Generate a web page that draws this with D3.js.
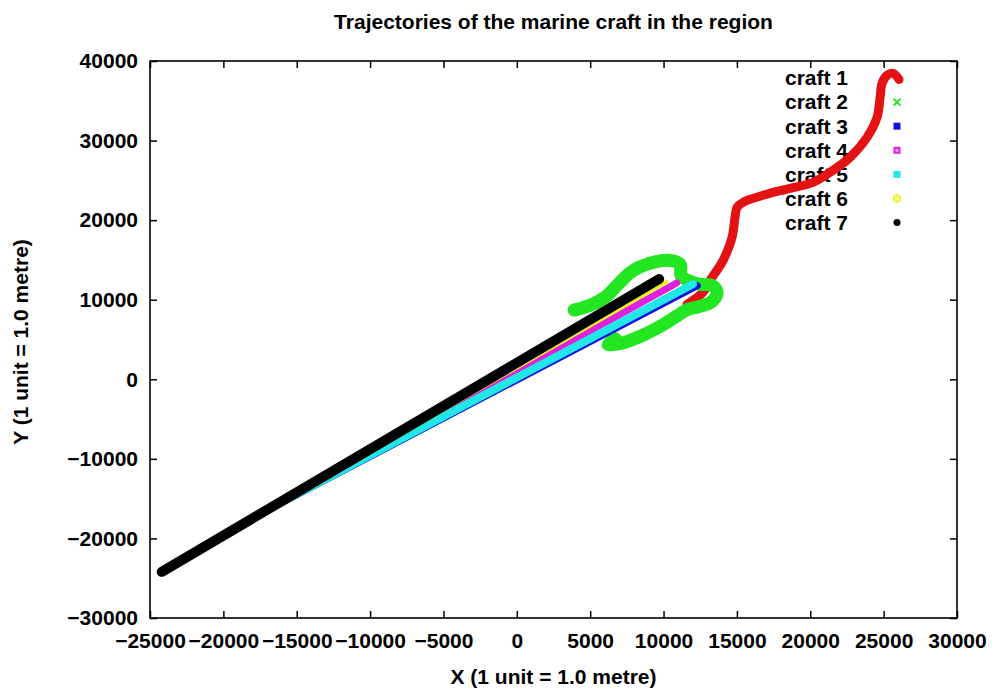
<!DOCTYPE html>
<html><head><meta charset="utf-8">
<script src="https://cdn.jsdelivr.net/npm/d3@7"></script>
<style>
body{margin:0;background:#fff;}
text{font-family:"Liberation Sans",Arial,sans-serif;font-weight:bold;fill:#000;}
</style>
</head><body>
<svg id="chart" width="999" height="695"></svg>
<script>
const titleText = "Trajectories of the marine craft in the region";
const xLabel = "X (1 unit = 1.0 metre)";
const yLabel = "Y (1 unit = 1.0 metre)";
const xTicks = [-25000,-20000,-15000,-10000,-5000,0,5000,10000,15000,20000,25000,30000];
const yTicks = [-30000,-20000,-10000,0,10000,20000,30000,40000];
const craftNames = ["craft 1","craft 2","craft 3","craft 4","craft 5","craft 6","craft 7"];
const craftColors = ["#e41212","#22e622","#1010e0","#e020e0","#20e8e8","#f0f020","#000000"];
const craftMarkers = ["plus","cross","star","square","fsquare","circle","fcircle"];

const craft1 = [[11600,9420],[12690,10930],[13170,12430],[14060,14950],[14670,17840],[14870,20350],[15010,21610],[15420,22240],[16780,23120],[18620,23990],[20190,24750],[21550,26260],[22710,27890],[23870,30400],[24550,32910],[24760,35430],[24890,37190],[25230,38190],[25640,38440],[26050,37680]];
const craft2 = [[3900,8700],[5000,9300],[6010,10300],[6900,11930],[7850,13570],[9080,14570],[10310,14950],[11130,14450],[11200,13000],[11810,12310],[12490,11930],[13310,11810],[13650,10930],[13310,9800],[12490,9170],[11670,8790],[10780,7800],[9760,6650],[8540,5500],[7170,4550],[6220,4350],[6700,5100]];
const craft3 = [[-17000,-16450],[12300,11780]];
const craft4 = [[-17500,-16900],[10900,12100]];
const craft5 = [[-17000,-16400],[12000,11950]];
const craft6 = [[-18500,-18100],[10200,12250]];
const craft7 = [[-24200,-24200],[9700,12600]];
const crafts = [craft1,craft2,craft3,craft4,craft5,craft6,craft7];
const craftWidths = [9,13,7,7,8,4,10];

const L=150,R=957,T=61,B=618;
const svg = d3.select("#chart");
const x = d3.scaleLinear().domain([-25000,30000]).range([L,R]);
const y = d3.scaleLinear().domain([-30000,40000]).range([B,T]);
const fs = 21;

svg.append("text").attr("x",(L+R)/2).attr("y",22).attr("dy","0.35em")
  .attr("text-anchor","middle").style("font-size",fs+"px").text(titleText);
svg.append("text").attr("x",(L+R)/2).attr("y",677).attr("dy","0.35em")
  .attr("text-anchor","middle").style("font-size",fs+"px").text(xLabel);
svg.append("text").attr("transform","translate(21,342) rotate(-90)").attr("dy","0.35em")
  .attr("text-anchor","middle").style("font-size",fs+"px").text(yLabel);

const gx = svg.append("g").attr("transform",`translate(0,${B})`)
  .call(d3.axisBottom(x).tickValues(xTicks).tickFormat(d3.format("d")).tickSize(-7).tickSizeOuter(0).tickPadding(15));
const gxt = svg.append("g").attr("transform",`translate(0,${T})`)
  .call(d3.axisTop(x).tickValues(xTicks).tickFormat("").tickSize(-7).tickSizeOuter(0));
const gy = svg.append("g").attr("transform",`translate(${L},0)`)
  .call(d3.axisLeft(y).tickValues(yTicks).tickFormat(d3.format("d")).tickSize(-7).tickSizeOuter(0).tickPadding(12));
const gyr = svg.append("g").attr("transform",`translate(${R},0)`)
  .call(d3.axisRight(y).tickValues(yTicks).tickFormat("").tickSize(-7).tickSizeOuter(0));
[gx,gxt,gy,gyr].forEach(g=>{
  g.select(".domain").remove();
  g.selectAll(".tick line").attr("stroke","#000").attr("stroke-width",1.5);
  g.selectAll(".tick text").style("font-size",fs+"px").attr("font-family",null);
});
svg.append("rect").attr("x",L).attr("y",T).attr("width",R-L).attr("height",B-T)
  .attr("fill","none").attr("stroke","#000").attr("stroke-width",1.6);

const legX = 848, legY0 = 78, legDy = 24.1, markX = 897;
craftNames.forEach((n,i)=>{
  svg.append("text").attr("x",legX).attr("y",legY0+i*legDy).attr("dy","0.35em")
    .attr("text-anchor","end").style("font-size",fs+"px").text(n);
});

const line = d3.line().x(d=>x(d[0])).y(d=>y(d[1]));
crafts.forEach((c,i)=>{
  const ln = c.length>2 ? line.curve(d3.curveCatmullRom.alpha(0.5)) : line.curve(d3.curveLinear);
  svg.append("path").attr("d",ln(c)).attr("fill","none")
    .attr("stroke",craftColors[i]).attr("stroke-width",craftWidths[i])
    .attr("stroke-linecap","round").attr("stroke-linejoin","round");
});

craftMarkers.forEach((m,i)=>{
  const cx = markX, cy = legY0+i*legDy, s = 3.5, col = craftColors[i];
  const g = svg.append("g").attr("transform",`translate(${cx},${cy})`);
  if(m==="plus"){g.append("path").attr("d",`M${-s},0H${s}M0,${-s}V${s}`).attr("stroke",col).attr("stroke-width",2);}
  else if(m==="cross"){g.append("path").attr("d",`M${-s},${-s}L${s},${s}M${-s},${s}L${s},${-s}`).attr("stroke",col).attr("stroke-width",2);}
  else if(m==="star"){g.append("rect").attr("x",-s).attr("y",-s).attr("width",2*s).attr("height",2*s).attr("fill",col);}
  else if(m==="square"){g.append("rect").attr("x",-s+1).attr("y",-s+1).attr("width",2*s-2).attr("height",2*s-2).attr("fill","#f0a0f0").attr("stroke",col).attr("stroke-width",2);}
  else if(m==="fsquare"){g.append("rect").attr("x",-s).attr("y",-s).attr("width",2*s).attr("height",2*s).attr("fill",col);}
  else if(m==="circle"){g.append("circle").attr("r",s).attr("fill","#f8f880").attr("stroke",col).attr("stroke-width",1.5);}
  else {g.append("circle").attr("r",s).attr("fill",col);}
});
</script>
</body></html>
